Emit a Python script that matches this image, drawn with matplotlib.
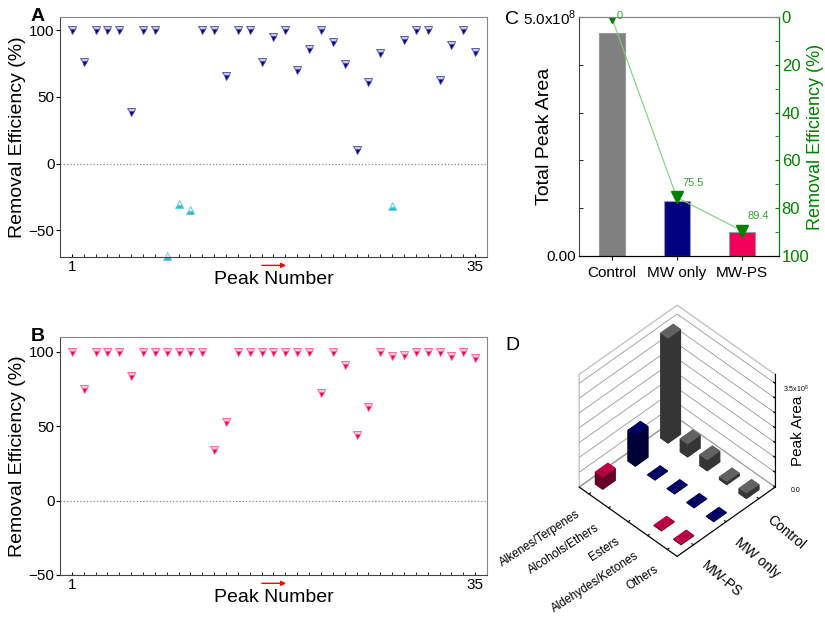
import numpy as np
import matplotlib
matplotlib.use("Agg")
import matplotlib.pyplot as plt
from matplotlib.ticker import FixedLocator

plt.rcParams['font.family'] = ['Liberation Sans', 'DejaVu Sans']
plt.rcParams['mathtext.fontset'] = 'custom'
plt.rcParams['mathtext.rm'] = 'Liberation Sans'

# panel A / B: removal efficiency per peak
peaks = np.arange(1, 36)
eff_mw = [100, 76, 100, 100, 100, 39, 100, 100, -69, -30,
          -35, 100, 100, 66, 100, 100, 76, 95, 100, 70,
          86, 100, 91, 75, 10, 61, 83, -32, 93, 100,
          100, 63, 89, 100, 84]
eff_mwps = [100, 75, 100, 100, 100, 84, 100, 100, 100, 100,
            100, 100, 34, 53, 100, 100, 100, 100, 100, 100,
            100, 72, 100, 91, 44, 63, 100, 97, 98, 100,
            100, 100, 97, 100, 96]

# panel C: total peak area and removal efficiency
treatments = ['Control', 'MW only', 'MW-PS']
total_area = [4.66e8, 1.14e8, 0.494e8]
total_eff = [0, 75.5, 89.4]
eff_labels = ['0', '75.5', '89.4']

# panel D: peak area by compound class
classes = ['Alkenes/Terpenes', 'Alcohols/Ethers', 'Esters', 'Aldehydes/Ketones', 'Others']
area_control = [3.55e8, 0.45e8, 0.38e8, 0.10e8, 0.18e8]
area_mw = [1.05e8, 0.02e8, 0.02e8, 0.02e8, 0.02e8]
area_mwps = [0.42e8, 0, 0, 0.03e8, 0.03e8]

bar_colors = ['#808080', '#000080', '#f0005a']

fig = plt.figure(figsize=(8.25, 6.21), dpi=100)


def scatter_panel(ax, eff, down_face, down_alt, down_edge, ylim, letter):
    eff = np.asarray(eff)
    pos = eff >= 0
    ax.plot(peaks[pos], eff[pos], linestyle='none', marker='v', markersize=6,
            fillstyle='bottom', markerfacecolor=down_face, markerfacecoloralt=down_alt,
            markeredgecolor=down_edge, markeredgewidth=0.6)
    if (~pos).any():
        ax.plot(peaks[~pos], eff[~pos], linestyle='none', marker='^', markersize=6,
                fillstyle='bottom', markerfacecolor='#38b8c8', markerfacecoloralt='#d8f4f8',
                markeredgecolor='#60c8d4', markeredgewidth=0.6, clip_on=False)
    ax.axhline(0, color='#888888', linestyle=':', linewidth=0.9)
    ax.set_xlim(0, 36)
    ax.set_ylim(*ylim)
    ax.set_yticks([-50, 0, 50, 100])
    ax.set_xticks([1, 35])
    ax.xaxis.set_minor_locator(FixedLocator(peaks))
    ax.tick_params(axis='x', which='both', direction='in', length=2.5, labelsize=11, pad=2)
    ax.tick_params(axis='y', direction='out', length=3, labelsize=11, pad=1)
    ax.set_ylabel('Removal Efficiency (%)', fontsize=14, labelpad=2)
    ax.set_xlabel('Peak Number', fontsize=14, labelpad=-2)
    for s in ['top', 'right']:
        ax.spines[s].set_color('#888888')
    for s in ['left', 'bottom']:
        ax.spines[s].set_color('#444444')
    ax.annotate('', xy=(0.536, -0.035), xytext=(0.466, -0.035), xycoords='axes fraction',
                arrowprops=dict(arrowstyle='-|>', color='red', lw=1, mutation_scale=7))
    ax.text(-0.035, 1.0, letter, transform=ax.transAxes, fontsize=14,
            fontweight='bold', ha='right', va='center')


axA = fig.add_axes([0.0727, 0.5862, 0.5176, 0.3865])
scatter_panel(axA, eff_mw, '#000080', '#c8c8f0', '#4848a0', (-70, 110), 'A')

axB = fig.add_axes([0.0727, 0.0741, 0.5176, 0.3833])
scatter_panel(axB, eff_mwps, '#e0004c', '#ffc8dc', '#ff5890', (-50, 110), 'B')

# panel C
axC = fig.add_axes([0.7018, 0.5878, 0.2424, 0.3849])
x = np.arange(len(treatments))
axC.bar(x, total_area, width=0.4, color=bar_colors, edgecolor='#999999', linewidth=0.8)
axC.set_xlim(-0.5, 2.57)
axC.set_ylim(0, 5e8)
axC.set_yticks([0, 5e8])
axC.set_yticklabels(['0.00', '5.0x10$^8$'])
axC.yaxis.set_minor_locator(FixedLocator([1e8, 2e8, 3e8, 4e8]))
axC.set_xticks(x)
axC.set_xticklabels(treatments)
axC.tick_params(axis='y', which='both', direction='in', length=3, labelsize=11, pad=2)
axC.tick_params(axis='x', direction='out', length=3, labelsize=11, pad=4)
axC.set_ylabel('Total Peak Area', fontsize=14)
axC.yaxis.set_label_coords(-0.13, 0.5)
axC.spines['top'].set_color('#888888')
axC.spines['left'].set_color('#444444')
axC.spines['bottom'].set_color('#444444')
fig.text(505 / 825, 1 - 20 / 621, 'C', fontsize=14, ha='left', va='center')

axC2 = axC.twinx()
axC2.plot(x, total_eff, color='#7ed07e', linewidth=0.8, marker='v', markersize=9,
          markerfacecolor='#008000', markeredgecolor='#008000')
for xi, yi, lab in zip(x, total_eff, eff_labels):
    axC2.annotate(lab, (xi, yi), xytext=(4, 4 if yi == 0 else 7), textcoords='offset points',
                  fontsize=8, color='#3aa03a', ha='left', va='bottom' if yi > 0 else 'top')
axC2.set_ylim(100, 0)
axC2.set_yticks([0, 20, 40, 60, 80, 100])
axC2.yaxis.set_minor_locator(FixedLocator([10, 30, 50, 70, 90]))
axC2.tick_params(axis='y', which='both', direction='in', length=3, labelsize=12,
                 colors='#008000', pad=2)
axC2.spines['right'].set_color('#008000')
axC2.spines['left'].set_visible(False)
axC2.spines['top'].set_color('#888888')
axC2.set_ylabel('Removal Efficiency (%)', fontsize=13, color='#008000')
axC2.yaxis.set_label_coords(1.14, 0.5)

# panel D
axD = fig.add_axes([0.626, 0.065, 0.38, 0.47], projection='3d')
axD.set_proj_type('ortho')
axD.view_init(elev=45, azim=45)
for i, vals in enumerate([area_control, area_mw, area_mwps]):
    for j, v in enumerate(vals):
        if v > 0:
            axD.bar3d(i - 0.2, j - 0.2, 0, 0.4, 0.4, v, color=bar_colors[i],
                      shade=True, edgecolor='none')
axD.set_xlim(-0.5, 2.5)
axD.set_ylim(-0.5, 4.5)
axD.set_zlim(0, 3.8e8)
axD.set_box_aspect((1, 1, 1.15), zoom=0.84)
axD.set_xticks(range(3))
axD.set_xticklabels(treatments, fontsize=10, rotation=-40, ha='left', va='center',
                    rotation_mode='anchor')
axD.set_yticks(range(5))
axD.set_yticklabels(classes, fontsize=8.5, rotation=33, ha='right', va='center',
                    rotation_mode='anchor')
zt = np.arange(0, 3.51e8, 0.5e8)
axD.set_zticks(zt)
axD.set_zticklabels(['0.0'] + [''] * (len(zt) - 2) + ['3.5x10$^8$'], fontsize=5)
axD.zaxis.set_ticks_position('upper')
axD.zaxis.set_label_position('upper')
axD.set_zlabel('Peak Area', fontsize=11, labelpad=-8)
for a in [axD.xaxis, axD.yaxis, axD.zaxis]:
    a.pane.fill = False
    a.pane.set_edgecolor('#888888')
    a._axinfo['tick']['inward_factor'] = 0
    a._axinfo['tick']['outward_factor'] = 0.2
axD.xaxis._axinfo['grid']['color'] = (1, 1, 1, 0)
axD.yaxis._axinfo['grid']['color'] = (1, 1, 1, 0)
axD.zaxis._axinfo['grid']['color'] = '#999999'
axD.zaxis._axinfo['grid']['linewidth'] = 0.6
fig.text(505 / 825, 1 - 345 / 621, 'D', fontsize=14, ha='left', va='center')

fig.savefig('out.png', dpi=100)
